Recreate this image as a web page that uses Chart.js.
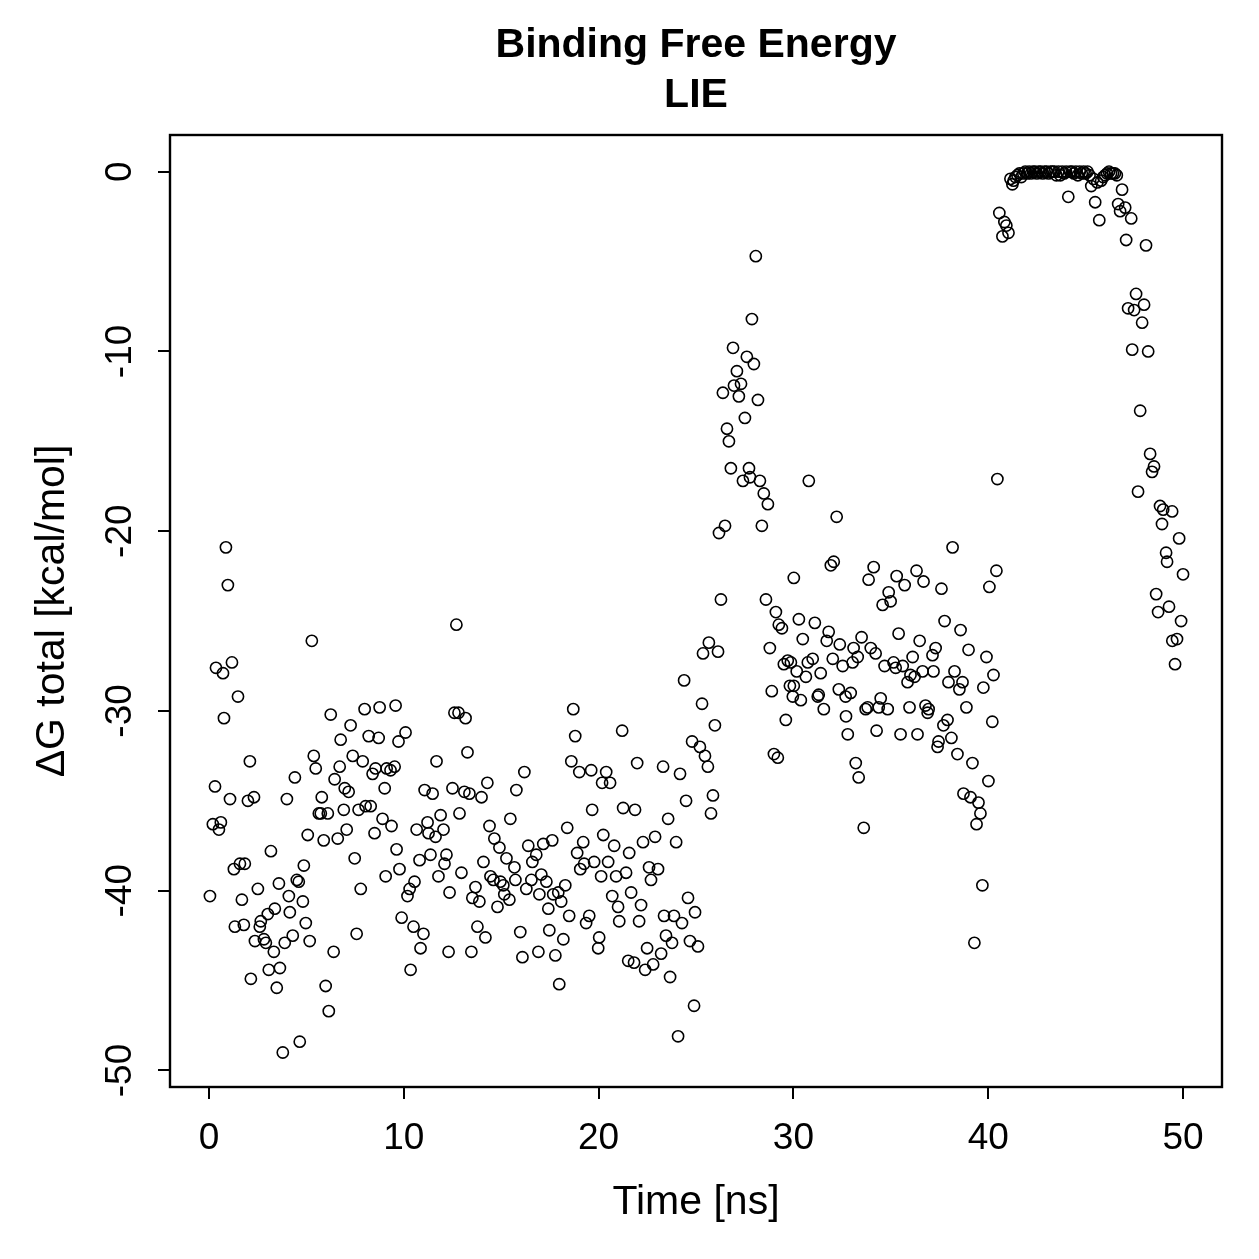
<!DOCTYPE html>
<html lang="en">
<head>
<meta charset="UTF-8">
<title>Binding Free Energy - LIE</title>
<script src="https://cdn.jsdelivr.net/npm/chart.js@4"></script>
<style>
  html, body { margin: 0; padding: 0; background: #ffffff; }
</style>
</head>
<body>
<canvas id="grafico" width="1259" height="1259"></canvas>
<script>
// Tempo da simulacao (ns) e energia livre de ligacao (kcal/mol)
const timeNs = [
  0.05, 0.20, 0.31, 0.36, 0.51, 0.61, 0.72, 0.77, 0.87, 0.97, 1.08, 1.18, 1.28, 1.33, 1.49, 1.59, 1.69, 1.79, 1.84, 2.00,
  2.10, 2.15, 2.31, 2.36, 2.51, 2.61, 2.66, 2.82, 2.92, 3.02, 3.07, 3.18, 3.33, 3.38, 3.48, 3.59, 3.64, 3.79, 3.89, 4.00,
  4.10, 4.15, 4.30, 4.41, 4.51, 4.61, 4.66, 4.82, 4.87, 4.97, 5.07, 5.17, 5.28, 5.38, 5.48, 5.64, 5.74, 5.79, 5.89, 5.99,
  6.10, 6.15, 6.25, 6.40, 6.45, 6.61, 6.71, 6.76, 6.92, 6.97, 7.07, 7.17, 7.27, 7.38, 7.48, 7.58, 7.68, 7.79, 7.89, 7.99,
  8.04, 8.20, 8.30, 8.40, 8.50, 8.55, 8.71, 8.76, 8.91, 9.02, 9.07, 9.12, 9.32, 9.37, 9.53, 9.58, 9.63, 9.73, 9.78, 9.89,
  10.09, 10.19, 10.30, 10.35, 10.50, 10.55, 10.66, 10.81, 10.86, 11.01, 11.07, 11.22, 11.27, 11.37, 11.48, 11.63, 11.68, 11.78, 11.89, 12.04,
  12.09, 12.19, 12.30, 12.35, 12.50, 12.60, 12.70, 12.81, 12.86, 12.96, 13.11, 13.17, 13.27, 13.37, 13.47, 13.52, 13.68, 13.78, 13.88, 13.99,
  14.09, 14.19, 14.29, 14.40, 14.45, 14.60, 14.65, 14.81, 14.91, 14.96, 15.11, 15.16, 15.27, 15.42, 15.47, 15.68, 15.73, 15.78, 15.98, 16.09,
  16.19, 16.29, 16.39, 16.55, 16.60, 16.80, 16.91, 16.96, 17.06, 17.16, 17.32, 17.42, 17.47, 17.62, 17.67, 17.78, 17.93, 17.98, 18.08, 18.19,
  18.29, 18.39, 18.49, 18.60, 18.70, 18.80, 18.90, 19.01, 19.06, 19.21, 19.26, 19.36, 19.52, 19.62, 19.67, 19.77,
  19.98, 20.03, 20.13, 20.18, 20.24, 20.39, 20.49, 20.59, 20.70, 20.80, 20.90, 21.00, 21.06, 21.21, 21.26, 21.41, 21.52, 21.57, 21.67, 21.82,
  21.87, 21.98, 22.08, 22.18, 22.28, 22.39, 22.49, 22.59, 22.69, 22.80, 22.90, 23.05, 23.21, 23.31, 23.36, 23.46, 23.57, 23.67, 23.77, 23.87,
  23.98, 24.08, 24.18, 24.28, 24.39, 24.49, 24.59, 24.69, 24.80, 24.90, 24.95, 25.10, 25.20, 25.31, 25.36, 25.46, 25.61, 25.66, 25.77, 25.87,
  25.97, 26.13, 26.18, 26.28,
  26.38, 26.49, 26.59, 26.69, 26.79, 26.90, 26.95, 27.10, 27.20, 27.31, 27.41, 27.51, 27.61, 27.72, 27.77, 27.87, 27.97, 28.07, 28.18, 28.28,
  28.38, 28.48, 28.59, 28.69, 28.79, 28.89, 29.00, 29.10, 29.20, 29.25, 29.41, 29.51, 29.61, 29.71, 29.82,
  29.87, 30.02, 30.02, 29.97, 30.17, 30.28, 30.38, 30.48, 30.64, 30.74, 30.79, 30.99, 31.10, 31.25, 31.30, 31.40, 31.56, 31.71, 31.81, 31.92,
  32.07, 32.02, 32.22, 32.33, 32.38, 32.53, 32.68, 32.70, 32.79, 32.94, 33.04, 33.09, 33.20, 33.30, 33.35, 33.50, 33.61, 33.71, 33.81, 33.86,
  33.97, 34.12, 34.22, 34.27, 34.38, 34.48, 34.58, 34.68, 34.84, 34.89, 34.99, 35.14, 35.25, 35.30, 35.40, 35.50, 35.61, 35.71, 35.86, 35.96,
  36.01, 36.12, 36.22, 36.32, 36.37, 36.48, 36.63, 36.68, 36.78, 36.89, 36.94, 37.14, 37.19, 37.30, 37.40, 37.45, 37.60, 37.70, 37.76, 37.91,
  37.96, 38.11, 38.17, 38.27, 38.42, 38.52, 38.58, 38.68, 38.73, 38.88, 38.99, 39.09, 39.19, 39.29, 39.40, 39.50, 39.60, 39.70, 39.75, 39.91,
  40.01, 40.06, 40.21, 40.27, 40.42, 40.47,
  40.57, 40.73, 40.83, 40.93, 41.04, 41.14, 41.24, 41.30, 41.40, 41.50, 41.60, 41.70, 41.80, 41.90, 42.00, 42.10, 42.20, 42.30, 42.40, 42.50,
  42.60, 42.70, 42.80, 42.90, 43.00, 43.10, 43.20, 43.30, 43.40, 43.50, 43.60, 43.70, 43.80, 43.90, 44.00, 44.11, 44.20, 44.30, 44.40, 44.50,
  44.60, 44.70, 44.80, 44.90, 45.00, 45.10, 45.20, 45.29, 45.40, 45.49, 45.60, 45.70, 45.80, 45.90, 46.00, 46.10, 46.20, 46.30, 46.40, 46.50,
  46.60, 46.67, 46.77, 46.87, 47.03, 47.08, 47.18, 47.34, 47.39, 47.49, 47.59, 47.69, 47.80, 47.90, 48.00, 48.10, 48.21, 48.31, 48.41, 48.51,
  48.62, 48.72, 48.82, 48.92, 48.98, 49.13, 49.18, 49.28, 49.44, 49.45, 49.59, 49.69, 49.80, 49.90, 50.00
];
const deltaG = [
  -40.3, -36.3, -34.2, -27.6, -36.6, -36.2, -27.9, -30.4, -20.9, -23.0, -34.9, -27.3, -38.8, -42.0, -29.2, -38.5, -40.5, -41.9, -38.5, -35.0,
  -32.8, -44.9, -34.8, -42.8, -39.9, -42.0, -41.7, -42.7, -42.9, -41.3, -44.4, -37.8, -43.4, -41.0, -45.4, -39.6, -44.3, -49.0, -42.9, -34.9,
  -40.3, -41.2, -42.5, -33.7, -39.4, -39.5, -48.4, -40.6, -38.6, -41.8, -36.9, -42.8, -26.1, -32.5, -33.2, -35.7, -35.7, -34.8, -37.2, -45.3,
  -35.7, -46.7, -30.2, -43.4, -33.8, -37.1, -33.1, -31.6, -35.5, -34.3, -36.6, -34.5, -30.8, -32.5, -38.2, -42.4, -35.5, -39.9, -32.8, -29.9,
  -35.3, -31.4, -35.3, -33.5, -36.8, -33.2, -31.5, -29.8, -36.0, -34.3, -39.2, -33.2, -33.3, -36.4, -33.1, -29.7, -37.7, -31.7, -38.8, -41.5,
  -31.2, -40.3, -39.9, -44.4, -42.0, -39.5, -36.6, -38.3, -43.2, -42.4, -34.4, -36.2, -36.8, -38.0, -34.6, -37.0, -32.8, -39.2, -35.8, -36.6,
  -38.5, -38.0, -43.4, -40.1, -34.3, -30.1, -25.2, -30.1, -35.7, -39.0, -34.5, -30.4, -32.3, -34.6, -43.4, -40.4, -39.8, -42.0, -40.6, -34.8,
  -38.4, -42.6, -34.0, -36.4, -39.2, -39.4, -37.1, -40.9, -37.6, -39.5, -39.7, -40.2, -38.2, -40.5, -36.0, -38.7, -39.4, -34.4, -42.3, -43.7,
  -33.4, -39.9, -37.5, -39.4, -38.4, -38.0, -43.4, -40.2, -39.1, -37.4, -39.5, -41.0, -42.2, -37.2, -40.2, -43.6, -40.1, -45.2, -40.6, -42.7,
  -39.7, -36.5, -41.4, -32.8, -29.9, -31.4, -37.9, -33.4, -38.8, -37.3, -38.5, -41.8, -41.4, -33.3, -35.5, -38.4,
  -43.2, -42.6, -39.2, -34.0, -36.9, -33.4, -38.4, -34.0, -40.3, -37.5, -39.2, -40.9, -41.7, -31.1, -35.4, -39.0, -43.9, -37.9, -40.1, -44.0,
  -35.5, -32.9, -41.7, -40.8, -37.3, -44.4, -43.2, -38.7, -39.4, -44.1, -37.0, -38.8, -43.5, -33.1, -41.4, -42.5, -36.0, -44.8, -42.9, -41.4,
  -37.3, -48.1, -33.5, -41.8, -28.3, -35.0, -40.4, -42.8, -31.7, -46.4, -41.2, -43.1, -32.0, -29.6, -26.8, -32.5, -33.1, -26.2, -35.7, -34.7,
  -30.8, -26.7, -20.1, -23.8,
  -12.3, -19.7, -14.3, -15.0, -16.5, -9.8, -11.9, -11.1, -12.5, -11.8, -17.2, -13.7, -10.3, -16.5, -17.0, -8.2, -10.7, -4.7, -12.7, -17.2,
  -19.7, -17.9, -23.8, -18.5, -26.5, -28.9, -32.4, -24.5, -32.6, -25.2, -25.4, -27.4, -30.5, -27.2, -28.6,
  -27.3, -22.6, -28.6, -29.2, -27.8, -24.9, -29.4, -26.0, -28.1, -27.3, -17.2, -27.1, -25.1, -29.2, -29.1, -27.9, -29.9, -26.1, -25.6, -21.9,
  -21.7, -27.1, -19.2, -28.8, -26.3, -27.5, -29.2, -30.3, -31.3, -29.0, -27.3, -26.5, -32.9, -27.0, -33.7, -25.9, -36.5, -29.9, -29.8, -22.7,
  -26.5, -22.0, -26.8, -31.1, -29.8, -29.3, -24.1, -27.5, -29.9, -23.4, -23.9, -27.3, -27.6, -22.5, -25.7, -31.3, -27.5, -23.0, -28.4, -29.8,
  -28.0, -27.0, -28.1, -22.2, -31.3, -26.1, -27.8, -22.8, -29.7, -30.1, -29.9, -26.9, -27.8, -26.5, -32.0, -31.7, -23.2, -30.8, -25.0, -30.5,
  -28.4, -31.5, -20.9, -27.8, -32.4, -28.8, -25.5, -28.4, -34.6, -29.8, -26.6, -34.8, -32.9, -42.9, -36.3, -35.1, -35.7, -39.7, -28.7, -27.0,
  -33.9, -23.1, -30.6, -28.0, -22.2, -17.1,
  -2.3, -3.6, -2.8, -3.0, -3.4, -0.4, -0.7, -0.5, -0.3, -0.2, -0.1, -0.3, -0.1, 0.0, -0.1, 0.0, -0.1, 0.0, 0.0, -0.1,
  0.0, 0.0, -0.1, 0.0, 0.0, -0.1, 0.0, 0.0, 0.0, -0.2, 0.0, -0.2, 0.0, -0.1, 0.0, -1.4, 0.0, 0.0, -0.1, 0.0,
  -0.2, 0.0, -0.1, 0.0, -0.1, 0.0, -0.2, -0.8, -0.4, -1.7, -0.6, -2.7, -0.5, -0.3, -0.2, -0.1, 0.0, -0.1, -0.1, -0.1,
  -0.2, -1.8, -2.2, -1.0, -2.0, -3.8, -7.6, -2.6, -9.9, -7.7, -6.8, -17.8, -13.3, -8.4, -7.4, -4.1, -10.0, -15.7, -16.7, -16.4,
  -23.5, -24.5, -18.6, -19.6, -18.8, -21.2, -21.7, -24.2, -18.9, -26.1, -27.4, -26.0, -20.4, -25.0, -22.4
];

const xTicks = [0, 10, 20, 30, 40, 50];
const yTicks = [0, -10, -20, -30, -40, -50];
const titleLines = ['Binding Free Energy', 'LIE'];
const xLabel = 'Time [ns]';
const yLabel = 'ΔG total [kcal/mol]';

const pontos = timeNs.map((t, i) => ({ x: t, y: deltaG[i] }));

const FONT = '"Liberation Sans", Arial, Helvetica, sans-serif';

// Desenha a moldura, os rotulos e os titulos no estilo do R
const estiloR = {
  id: 'estiloR',
  afterDraw(chart) {
    const ctx = chart.ctx;
    const area = chart.chartArea;
    const xs = chart.scales.x;
    const ys = chart.scales.y;
    ctx.save();
    ctx.strokeStyle = '#000';
    ctx.lineWidth = 2.4;
    ctx.strokeRect(area.left, area.top, area.right - area.left, area.bottom - area.top);

    ctx.fillStyle = '#000';
    ctx.font = '37px ' + FONT;
    ctx.textAlign = 'center';
    ctx.textBaseline = 'middle';
    xTicks.forEach(v => ctx.fillText(String(v), xs.getPixelForValue(v), area.bottom + 52));
    yTicks.forEach(v => {
      ctx.save();
      ctx.translate(area.left - 49, ys.getPixelForValue(v));
      ctx.rotate(-Math.PI / 2);
      ctx.fillText(String(v), 0, 0);
      ctx.restore();
    });

    ctx.font = '41px ' + FONT;
    ctx.fillText(xLabel, (area.left + area.right) / 2, area.bottom + 116);
    ctx.save();
    ctx.translate(area.left - 117, (area.top + area.bottom) / 2);
    ctx.rotate(-Math.PI / 2);
    ctx.fillText(yLabel, 0, 0);
    ctx.restore();

    ctx.font = 'bold 41px ' + FONT;
    ctx.fillText(titleLines[0], (area.left + area.right) / 2, 46);
    ctx.fillText(titleLines[1], (area.left + area.right) / 2, 96);
    ctx.restore();
  }
};

const ctx = document.getElementById('grafico').getContext('2d');
const grafico = new Chart(ctx, {
  type: 'scatter',
  data: {
    datasets: [{
      label: 'LIE',
      data: pontos,
      pointStyle: 'circle',
      pointRadius: 5.6,
      pointBorderWidth: 1.6,
      pointBorderColor: '#000',
      pointBackgroundColor: 'rgba(0,0,0,0)',
      pointHoverRadius: 5.6
    }]
  },
  options: {
    responsive: false,
    animation: false,
    devicePixelRatio: 1,
    layout: { padding: { top: 135, right: 37, left: 0, bottom: 0 } },
    plugins: {
      legend: { display: false },
      tooltip: { enabled: false },
      title: { display: false }
    },
    scales: {
      x: {
        type: 'linear',
        min: -2,
        max: 52,
        afterFit: (scale) => { scale.height = 172; },
        afterBuildTicks: (scale) => { scale.ticks = xTicks.map(v => ({ value: v })); },
        grid: { drawOnChartArea: false, drawTicks: true, tickLength: 12, color: '#000', lineWidth: 2 },
        border: { display: false },
        ticks: { display: false }
      },
      y: {
        type: 'linear',
        min: -50.92,
        max: 2.04,
        afterFit: (scale) => { scale.width = 170; },
        afterBuildTicks: (scale) => { scale.ticks = yTicks.map(v => ({ value: v })); },
        grid: { drawOnChartArea: false, drawTicks: true, tickLength: 12, color: '#000', lineWidth: 2 },
        border: { display: false },
        ticks: { display: false }
      }
    }
  },
  plugins: [estiloR]
});
</script>
</body>
</html>
